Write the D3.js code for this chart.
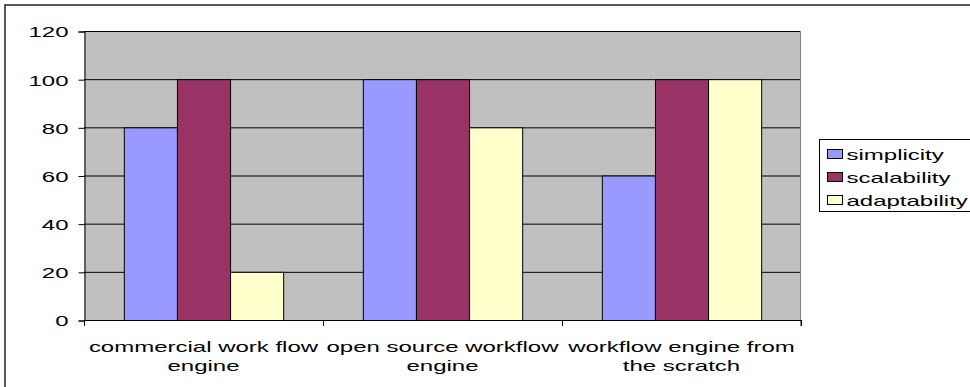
<!DOCTYPE html>
<html>
<head>
<script src="https://cdn.jsdelivr.net/npm/d3@7/dist/d3.min.js"></script>
<style>
body { margin: 0; background: #fff; }
svg { display: block; }
text { font-family: "Liberation Sans", Arial, sans-serif; font-size: 15px; fill: #000; }
</style>
</head>
<body>
<svg></svg>
<script>
var width = 970;
var height = 387;

// data
var categories = [["commercial work flow", "engine"], ["open source workflow", "engine"], ["workflow engine from", "the scratch"]];
var seriesNames = ["simplicity", "scalability", "adaptability"];
var simplicity = [80, 100, 60];
var scalability = [100, 100, 100];
var adaptability = [20, 80, 100];
var yTicks = [0, 20, 40, 60, 80, 100, 120];

var colors = ["#9999ff", "#993366", "#ffffcc"];
var values = [simplicity, scalability, adaptability];

// the original text is drawn wide, stretch it horizontally
var stretch = 1.6;

var plot = { left: 84, top: 31, right: 801, bottom: 320 };

var svg = d3.select("svg").attr("width", width).attr("height", height);

// places a stretched text at x,y
function wideText(parent, x, y, anchor, str) {
	return parent.append("text")
	.attr("transform", "translate(" + x + "," + y + ") scale(" + stretch + ",1)")
	.attr("text-anchor", anchor)
	.text(str);
}

// outer chart frame
svg.append("rect")
.attr("x", 5).attr("y", 5)
.attr("width", 975).attr("height", 390)
.style("fill", "none")
.style("stroke", "#222")
.style("stroke-width", 1.5);

var yScale = d3.scaleLinear().domain([0, 120]).range([plot.bottom, plot.top]);
var xScale = d3.scaleBand().domain(d3.range(categories.length)).range([plot.left, plot.right]);
// gap 150% of bar width -> 3 bars + 1.5 gap
var inner = d3.scaleBand().domain(d3.range(seriesNames.length))
.range([0, xScale.bandwidth()])
.paddingInner(0).paddingOuter(0.75);

// plot area
svg.append("rect")
.attr("x", plot.left).attr("y", plot.top)
.attr("width", plot.right - plot.left).attr("height", plot.bottom - plot.top)
.style("fill", "#c0c0c0");

// gridlines
svg.selectAll("line.grid").data(yTicks.filter(function (d) { return d > 0; })).enter().append("line")
.attr("class", "grid")
.attr("x1", plot.left).attr("x2", plot.right)
.attr("y1", function (d) { return yScale(d) + 0.5; })
.attr("y2", function (d) { return yScale(d) + 0.5; })
.style("stroke", "#000").style("stroke-width", 1);

// right edge of plot area
svg.append("line")
.attr("x1", plot.right - 0.5).attr("x2", plot.right - 0.5)
.attr("y1", plot.top).attr("y2", plot.bottom + 6)
.style("stroke", "#808080");

// bars
seriesNames.forEach(function (s, si) {
	svg.selectAll("rect.s" + si).data(values[si]).enter().append("rect")
	.attr("class", "s" + si)
	.attr("x", function (d, i) { return xScale(i) + inner(si) + 0.5; })
	.attr("y", function (d) { return yScale(d) + 0.5; })
	.attr("width", inner.bandwidth())
	.attr("height", function (d) { return yScale(0) - yScale(d); })
	.style("fill", colors[si])
	.style("stroke", "#000")
	.style("stroke-width", 1);
});

// y axis
var yAxis = d3.axisLeft(yScale).tickValues(yTicks).tickSize(6).tickPadding(10);
var gy = svg.append("g").attr("transform", "translate(" + (plot.left + 0.5) + ",0.5)").call(yAxis);
gy.selectAll("text")
.attr("x", -16 / stretch)
.attr("dy", "0.36em")
.attr("transform", "scale(" + stretch + ",1)")
.style("font-size", "15px").style("fill", "#000")
.style("font-family", "'Liberation Sans', Arial, sans-serif");
gy.selectAll("line, path").style("stroke", "#000");

// x axis line and ticks
svg.append("line")
.attr("x1", plot.left).attr("x2", plot.right)
.attr("y1", plot.bottom + 0.5).attr("y2", plot.bottom + 0.5)
.style("stroke", "#000");
var xTickPos = d3.range(categories.length + 1).map(function (i) { return plot.left + i * xScale.bandwidth(); });
svg.selectAll("line.xtick").data(xTickPos).enter().append("line")
.attr("class", "xtick")
.attr("x1", function (d) { return Math.round(d) + 0.5; })
.attr("x2", function (d) { return Math.round(d) + 0.5; })
.attr("y1", plot.bottom).attr("y2", plot.bottom + 6)
.style("stroke", "#000");

// category labels, two lines each
categories.forEach(function (lines, i) {
	lines.forEach(function (t, j) {
		wideText(svg, xScale(i) + xScale.bandwidth() / 2, 352 + j * 19, "middle", t);
	});
});

// legend
var legend = svg.append("g").attr("transform", "translate(819.5,139.5)");
legend.append("rect")
.attr("width", 160).attr("height", 72)
.style("fill", "#fff").style("stroke", "#000");
seriesNames.forEach(function (s, si) {
	var row = legend.append("g").attr("transform", "translate(8," + (10 + si * 23) + ")");
	row.append("rect").attr("width", 15).attr("height", 9)
	.style("fill", colors[si]).style("stroke", "#000");
	wideText(row, 19, 10, "start", s);
});
</script>
</body>
</html>
